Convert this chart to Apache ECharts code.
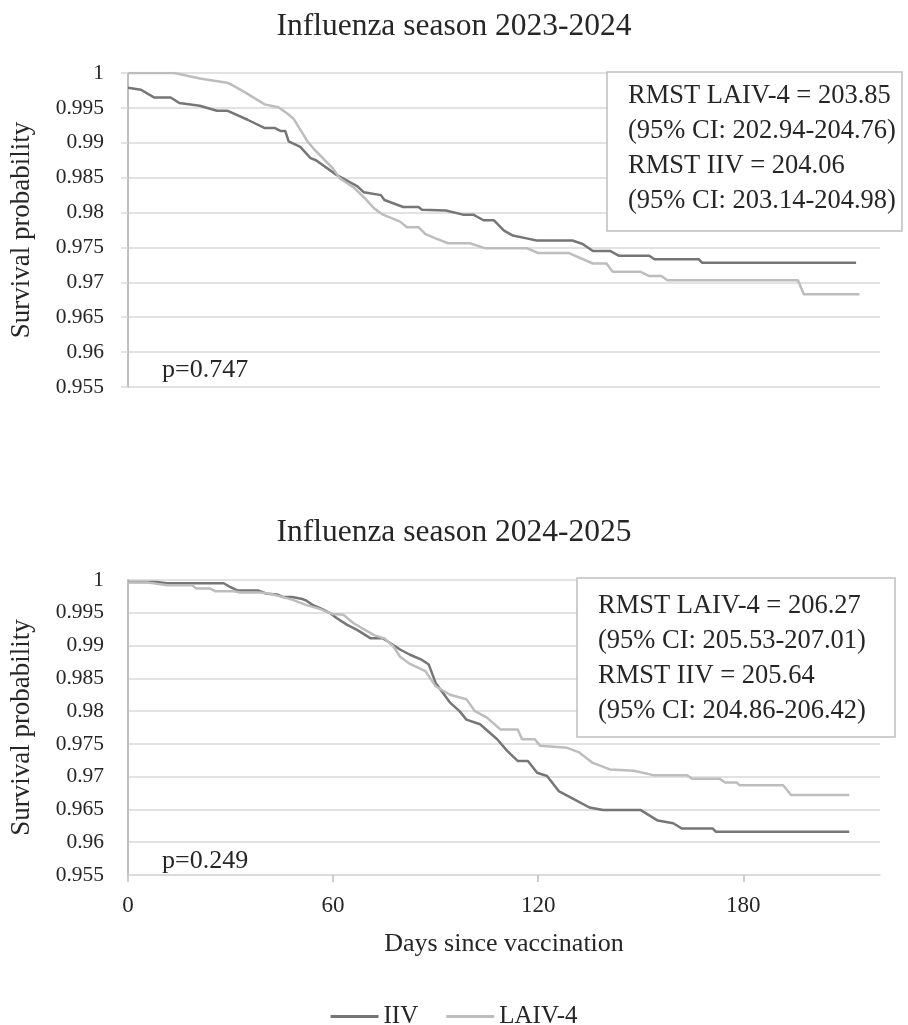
<!DOCTYPE html>
<html>
<head>
<meta charset="utf-8">
<script src="https://cdn.jsdelivr.net/npm/echarts@6.0.0/dist/echarts.min.js"></script>
<style>
  html, body { margin: 0; padding: 0; background: #fff; }
  #main { width: 908px; height: 1025px; }
</style>
</head>
<body>
<div id="main"></div>
<script>
// x axis ticks (days since vaccination)
const xTicks = [0, 60, 120, 180]

// Influenza season 2023-2024
const iiv2324Days = [0, 3.8, 7.6, 12.5, 15, 21, 26, 29, 35, 40, 43, 44.6, 46, 47, 50.4, 53.4, 55, 61, 67, 69, 74, 75, 80.5, 85, 86, 93, 98, 101, 104, 107, 110, 112.6, 116.6, 119.5, 130, 133, 136, 141, 143.7, 152.5, 154, 167, 168, 213]
const iiv2324Surv = [0.9979, 0.9976, 0.9965, 0.9965, 0.9957, 0.9953, 0.9946, 0.9946, 0.9933, 0.9921, 0.9921, 0.9917, 0.9917, 0.9902, 0.9894, 0.9878, 0.9875, 0.9854, 0.9838, 0.9829, 0.9825, 0.9818, 0.9808, 0.9808, 0.9804, 0.9803, 0.9797, 0.9797, 0.9789, 0.9789, 0.9774, 0.9767, 0.9763, 0.9760, 0.9760, 0.9755, 0.9745, 0.9745, 0.9738, 0.9738, 0.9733, 0.9733, 0.9728, 0.9728]
const laiv2324Days = [0, 13.5, 14.6, 21, 29, 30, 34, 37, 40, 44, 46.6, 48.5, 50.5, 52.5, 54.4, 57, 60, 62, 66, 69.4, 72, 74.6, 79.6, 81.6, 85, 87, 90, 93.6, 100, 104.4, 116.6, 120, 129, 136, 140, 141.8, 150, 152.5, 156, 157.8, 196, 197.7, 214]
const laiv2324Surv = [1, 1, 0.9999, 0.9992, 0.9986, 0.9984, 0.9973, 0.9964, 0.9955, 0.9951, 0.9942, 0.9934, 0.9918, 0.9902, 0.9891, 0.9878, 0.9863, 0.9849, 0.9836, 0.9820, 0.9806, 0.9797, 0.9787, 0.9779, 0.9779, 0.9769, 0.9763, 0.9756, 0.9756, 0.9749, 0.9749, 0.9742, 0.9742, 0.9727, 0.9727, 0.9715, 0.9715, 0.9709, 0.9709, 0.9703, 0.9703, 0.9683, 0.9683]

// Influenza season 2024-2025
const iiv2425Days = [0, 8.5, 11.4, 28, 30, 32, 38, 40.6, 43.6, 45.4, 48, 51, 52, 54, 57, 59, 61, 64, 67, 71, 74.6, 76.7, 79.6, 82.5, 86, 88, 90, 94.2, 97, 99, 103, 108, 111, 114, 117, 119.7, 122.6, 126, 130, 135, 139, 150, 155, 159.5, 162, 171, 172, 211]
const iiv2425Surv = [0.9997, 0.9997, 0.9995, 0.9995, 0.9989, 0.9984, 0.9984, 0.9979, 0.9978, 0.9974, 0.9974, 0.9971, 0.9969, 0.9962, 0.9955, 0.9950, 0.9942, 0.9932, 0.9924, 0.9911, 0.9911, 0.9904, 0.9894, 0.9886, 0.9878, 0.9871, 0.9843, 0.9813, 0.9800, 0.9787, 0.9780, 0.9757, 0.9739, 0.9724, 0.9724, 0.9706, 0.9701, 0.9678, 0.9667, 0.9653, 0.9649, 0.9649, 0.9633, 0.9629, 0.9621, 0.9621, 0.9616, 0.9616]
const laiv2425Days = [0, 6, 11.4, 18.7, 20, 24, 25.5, 30.7, 32.8, 38.6, 41.5, 44.5, 48, 52, 56, 60, 63, 66, 72, 75, 77.6, 79.6, 82.5, 87, 90, 94.2, 99, 101.5, 105, 109, 114, 115.3, 119, 120.6, 128.5, 132, 136, 141, 148, 154, 163.6, 165, 173, 174.7, 178, 179, 191.7, 194, 211]
const laiv2425Surv = [0.9996, 0.9996, 0.9992, 0.9992, 0.9987, 0.9987, 0.9983, 0.9983, 0.9981, 0.9981, 0.9979, 0.9975, 0.9970, 0.9962, 0.9956, 0.9948, 0.9947, 0.9934, 0.9916, 0.9911, 0.9899, 0.9883, 0.9872, 0.9861, 0.9838, 0.9825, 0.9818, 0.9800, 0.9790, 0.9772, 0.9772, 0.9757, 0.9757, 0.9747, 0.9744, 0.9737, 0.9721, 0.9711, 0.9709, 0.9702, 0.9702, 0.9697, 0.9697, 0.9691, 0.9691, 0.9687, 0.9687, 0.9672, 0.9672]

const rmst2324 = ['RMST LAIV-4 = 203.85', '(95% CI: 202.94-204.76)', 'RMST IIV = 204.06', '(95% CI: 203.14-204.98)']
const rmst2425 = ['RMST LAIV-4 = 206.27', '(95% CI: 205.53-207.01)', 'RMST IIV = 205.64', '(95% CI: 204.86-206.42)']

const FONT = '"Liberation Serif", "Times New Roman", serif'
const TEXT = '#262626'
const GRID = '#d9d9d9'
const AXIS = '#bfbfbf'
const IIV_COLOR = '#767676'
const LAIV_COLOR = '#bdbdbd'

const zip = (xs, ys) => xs.map((x, i) => [x, ys[i]])

function xAxisOf(idx, showLabels) {
  return {
    gridIndex: idx,
    type: 'value',
    min: 0,
    max: 220,
    interval: 60,
    name: showLabels ? 'Days since vaccination' : '',
    nameLocation: 'middle',
    nameGap: 56,
    nameTextStyle: { fontFamily: FONT, fontSize: 26, color: TEXT },
    axisLine: { show: showLabels, lineStyle: { color: GRID, width: 1.5 } },
    axisTick: { show: showLabels, customValues: xTicks, length: 7, lineStyle: { color: AXIS, width: 1.5 } },
    axisLabel: { show: showLabels, customValues: xTicks, fontFamily: FONT, fontSize: 23, color: TEXT, margin: 19 },
    splitLine: { show: false }
  }
}

function yAxisOf(idx, showTicks) {
  return {
    gridIndex: idx,
    type: 'value',
    min: 0.955,
    max: 1,
    interval: 0.005,
    name: 'Survival probability',
    nameLocation: 'middle',
    nameGap: 93,
    nameTextStyle: { fontFamily: FONT, fontSize: 27, color: TEXT },
    axisLine: { show: true, lineStyle: { color: AXIS, width: 2 } },
    axisTick: { show: showTicks, length: 7, lineStyle: { color: GRID, width: 1.5 } },
    axisLabel: {
      fontFamily: FONT, fontSize: 21.5, color: TEXT, margin: 24,
      formatter: v => String(+v.toFixed(3))
    },
    splitLine: { show: true, lineStyle: { color: GRID, width: 1.5 } }
  }
}

function rmstBox(x, y, w, h, lines, textX, firstY) {
  const els = [{
    type: 'rect',
    shape: { x: x, y: y, width: w, height: h },
    style: { fill: '#fff', stroke: AXIS, lineWidth: 1.5 },
    z: 100
  }]
  lines.forEach((t, i) => {
    els.push({
      type: 'text',
      x: textX,
      y: firstY + i * 35,
      style: { text: t, fontFamily: FONT, fontSize: 26.5, fill: TEXT, verticalAlign: 'middle' },
      z: 101
    })
  })
  return els
}

const chart = echarts.init(document.getElementById('main'))

const option = {
  backgroundColor: '#fff',
  animation: false,
  title: [
    { text: 'Influenza season 2023-2024', left: 'center', top: 6, textStyle: { fontFamily: FONT, fontSize: 31.5, fontWeight: 'normal', color: TEXT } },
    { text: 'Influenza season 2024-2025', left: 'center', top: 512, textStyle: { fontFamily: FONT, fontSize: 31.5, fontWeight: 'normal', color: TEXT } }
  ],
  legend: {
    data: ['IIV', 'LAIV-4'],
    left: 'center',
    top: 999,
    icon: 'rect',
    itemWidth: 48,
    itemHeight: 3,
    itemGap: 28,
    textStyle: { fontFamily: FONT, fontSize: 25, color: TEXT }
  },
  grid: [
    { left: 127, top: 73, width: 753, height: 314 },
    { left: 127, top: 580, width: 753, height: 295 }
  ],
  xAxis: [xAxisOf(0, false), xAxisOf(1, true)],
  yAxis: [yAxisOf(0, true), yAxisOf(1, false)],
  series: [
    { name: 'IIV', type: 'line', xAxisIndex: 0, yAxisIndex: 0, symbol: 'none', data: zip(iiv2324Days, iiv2324Surv), lineStyle: { color: IIV_COLOR, width: 2.5 }, itemStyle: { color: IIV_COLOR } },
    { name: 'LAIV-4', type: 'line', xAxisIndex: 0, yAxisIndex: 0, symbol: 'none', data: zip(laiv2324Days, laiv2324Surv), lineStyle: { color: LAIV_COLOR, width: 2.5 }, itemStyle: { color: LAIV_COLOR } },
    { name: 'IIV', type: 'line', xAxisIndex: 1, yAxisIndex: 1, symbol: 'none', data: zip(iiv2425Days, iiv2425Surv), lineStyle: { color: IIV_COLOR, width: 2.5 }, itemStyle: { color: IIV_COLOR } },
    { name: 'LAIV-4', type: 'line', xAxisIndex: 1, yAxisIndex: 1, symbol: 'none', data: zip(laiv2425Days, laiv2425Surv), lineStyle: { color: LAIV_COLOR, width: 2.5 }, itemStyle: { color: LAIV_COLOR } }
  ],
  graphic: [
    ...rmstBox(607, 72, 295, 159, rmst2324, 628, 96),
    ...rmstBox(577, 578, 318, 159, rmst2425, 598, 606),
    { type: 'text', x: 162, y: 370, style: { text: 'p=0.747', fontFamily: FONT, fontSize: 26, fill: TEXT, verticalAlign: 'middle' }, z: 101 },
    { type: 'text', x: 162, y: 861, style: { text: 'p=0.249', fontFamily: FONT, fontSize: 26, fill: TEXT, verticalAlign: 'middle' }, z: 101 }
  ]
}

chart.setOption(option)
</script>
</body>
</html>
